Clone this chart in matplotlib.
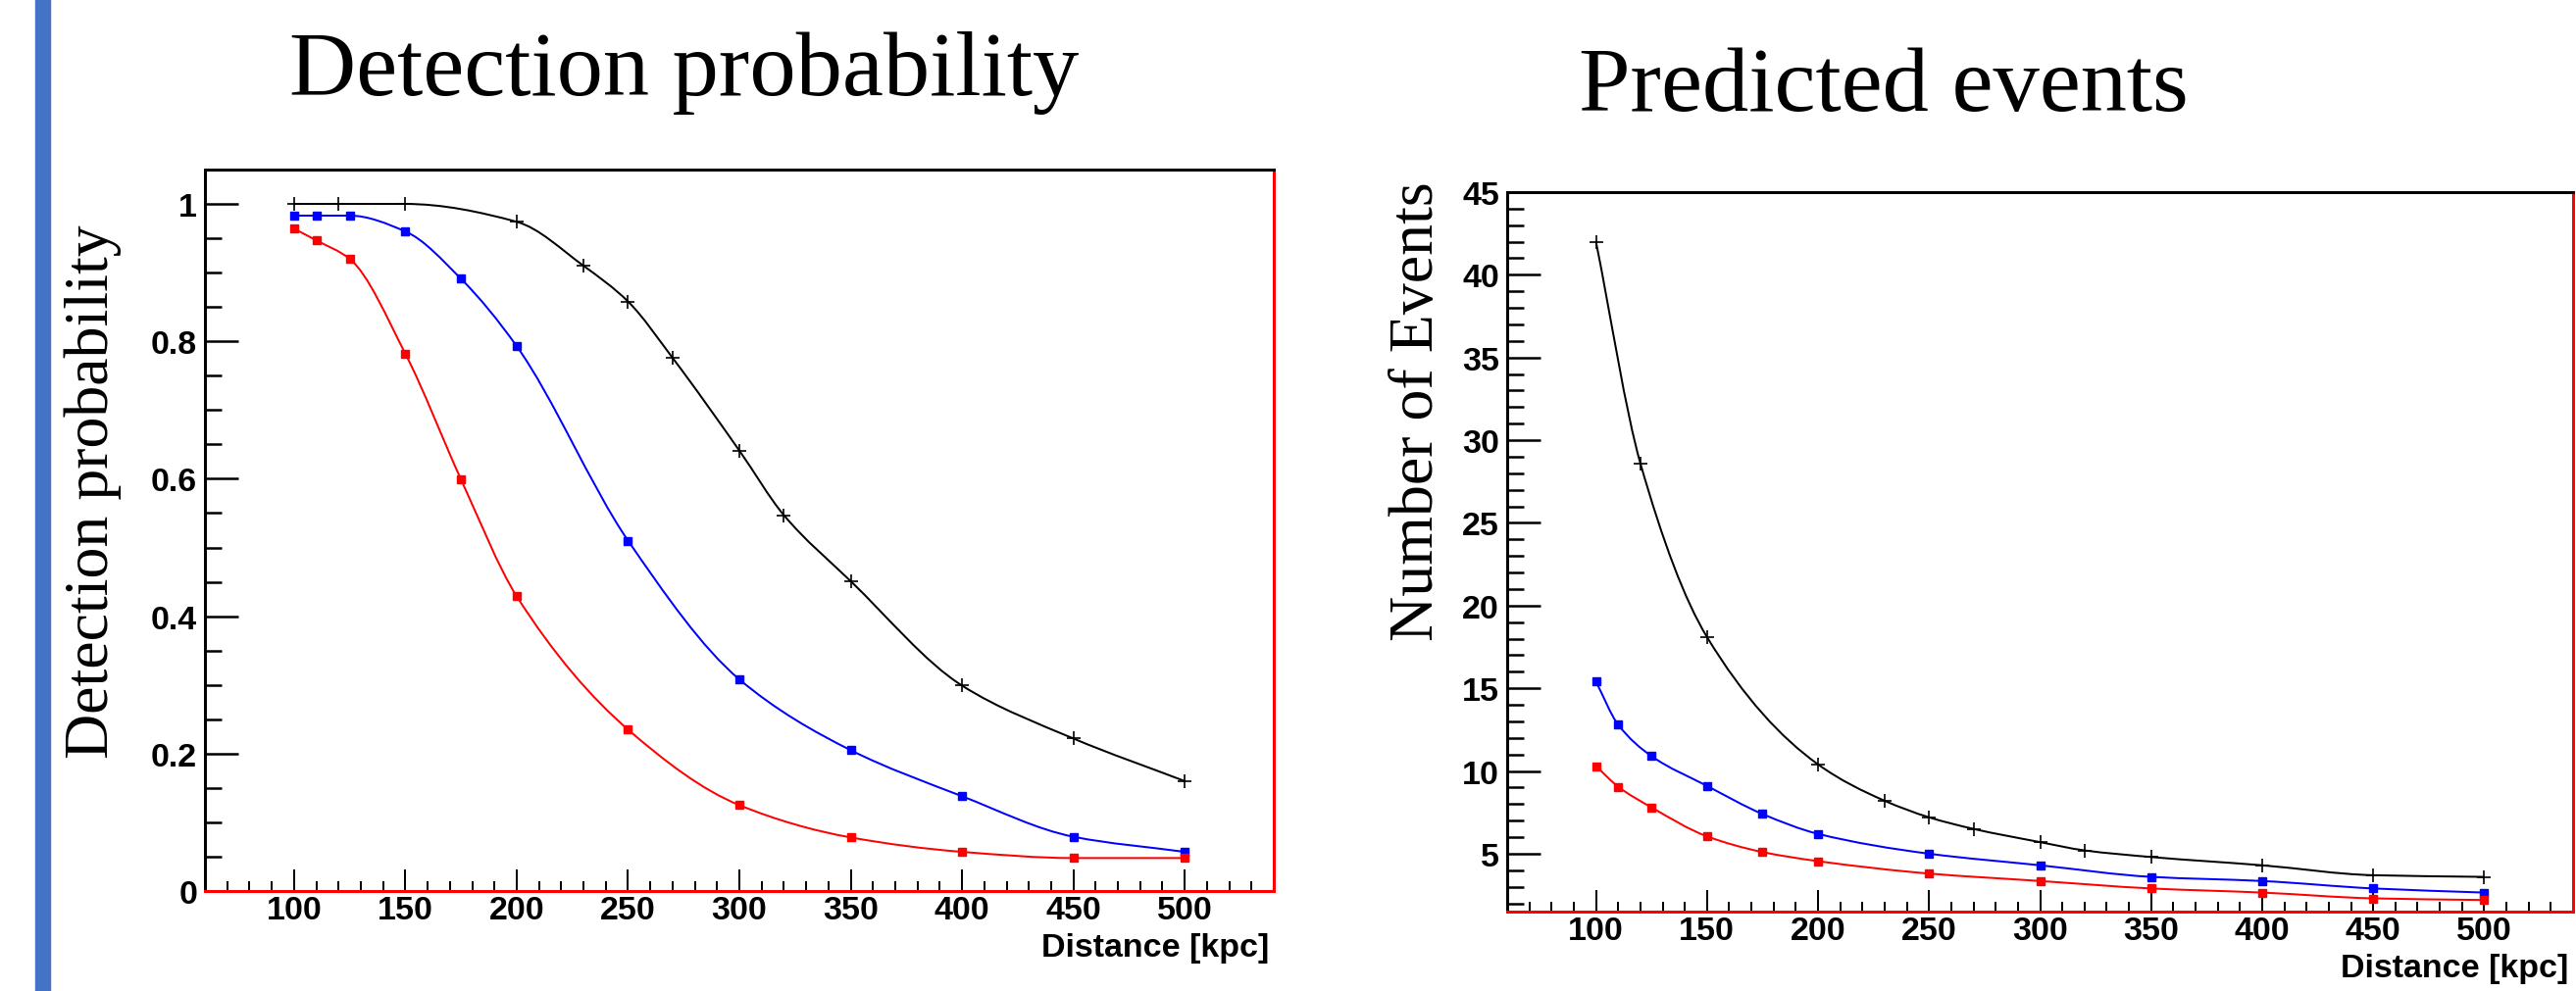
import numpy as np
import matplotlib
matplotlib.use("Agg")
import matplotlib.pyplot as plt
from matplotlib.path import Path
from matplotlib.patches import PathPatch
from matplotlib.ticker import MultipleLocator, FixedLocator

# --- data ---
dist_black = [100, 120, 150, 200, 230, 250, 270, 300, 320, 350, 400, 450, 500]
dist_color = [100, 110, 125, 150, 175, 200, 250, 300, 350, 400, 450, 500]

prob_black = [1.0, 1.0, 1.0, 0.974, 0.910, 0.858, 0.776, 0.641, 0.547, 0.451, 0.299, 0.222, 0.160]
prob_blue = [0.983, 0.983, 0.983, 0.960, 0.891, 0.793, 0.510, 0.308, 0.205, 0.138, 0.079, 0.057]
prob_red = [0.964, 0.947, 0.920, 0.782, 0.599, 0.429, 0.235, 0.125, 0.078, 0.057, 0.048, 0.048]

events_black = [42.0, 28.6, 18.1, 10.4, 8.2, 7.2, 6.5, 5.7, 5.2, 4.8, 4.3, 3.7, 3.6]
events_blue = [15.4, 12.8, 10.9, 9.1, 7.4, 6.2, 5.0, 4.3, 3.6, 3.35, 2.9, 2.65]
events_red = [10.3, 9.05, 7.8, 6.05, 5.1, 4.55, 3.8, 3.35, 2.9, 2.65, 2.3, 2.2]

W, H = 2627, 1012
DPI = 100

SANS = ["Liberation Sans", "DejaVu Sans"]
SERIF = ["Liberation Serif", "DejaVu Serif"]


def px(v):
    # pixels -> points
    return v * 72.0 / DPI


def smooth_path(x, y):
    # monotone cubic (Fritsch-Carlson) drawn as bezier segments, like ROOT's "C" option
    x = np.asarray(x, float)
    y = np.asarray(y, float)
    h = np.diff(x)
    d = np.diff(y) / h
    m = np.zeros_like(y)
    m[0], m[-1] = d[0], d[-1]
    for i in range(1, len(y) - 1):
        if d[i - 1] * d[i] <= 0:
            m[i] = 0.0
        else:
            w1 = 2 * h[i] + h[i - 1]
            w2 = h[i] + 2 * h[i - 1]
            m[i] = (w1 + w2) / (w1 / d[i - 1] + w2 / d[i])
    verts = [(x[0], y[0])]
    codes = [Path.MOVETO]
    for i in range(len(x) - 1):
        verts += [(x[i] + h[i] / 3, y[i] + m[i] * h[i] / 3),
                  (x[i + 1] - h[i] / 3, y[i + 1] - m[i + 1] * h[i] / 3),
                  (x[i + 1], y[i + 1])]
        codes += [Path.CURVE4] * 3
    return Path(verts, codes)


def draw_series(ax, x, y, color, marker, ms, mew):
    ax.add_patch(PathPatch(smooth_path(x, y), fc="none", ec=color, lw=px(2)))
    ax.plot(x, y, ls="none", marker=marker, ms=ms, mew=mew,
            mec=color, mfc=color, clip_on=False)


def style_axes(ax, xlim, ylim, ymajor, yminor, yticklabels):
    ax.set_xlim(*xlim)
    ax.set_ylim(*ylim)
    ax.xaxis.set_major_locator(FixedLocator([100, 150, 200, 250, 300, 350, 400, 450, 500]))
    ax.xaxis.set_minor_locator(MultipleLocator(10))
    ax.yaxis.set_major_locator(FixedLocator(ymajor))
    ax.yaxis.set_minor_locator(MultipleLocator(yminor))
    ax.set_yticklabels(yticklabels)
    ax.tick_params(axis="x", which="major", direction="in", length=px(22), width=px(2),
                   pad=3, top=False, labelsize=24.5)
    ax.tick_params(axis="x", which="minor", direction="in", length=px(10), width=px(2), top=False)
    ax.tick_params(axis="y", which="major", direction="in", length=px(34), width=px(2.5),
                   pad=px(8), right=False, labelsize=24.5)
    ax.tick_params(axis="y", which="minor", direction="in", length=px(17), width=px(2.5), right=False)
    for lab in ax.get_xticklabels() + ax.get_yticklabels():
        lab.set_fontfamily(SANS)
        lab.set_fontweight("bold")
    ax.spines["top"].set_color("black")
    ax.spines["left"].set_color("black")
    ax.spines["bottom"].set_color("red")
    ax.spines["right"].set_color("red")
    for s in ax.spines.values():
        s.set_linewidth(px(3))
    ax.set_xlabel("Distance [kpc]", fontsize=24.5, fontweight="bold", family=SANS)
    ax.xaxis.set_label_coords(0.996, -0.057)
    ax.xaxis.label.set_horizontalalignment("right")
    ax.xaxis.label.set_verticalalignment("top")


fig = plt.figure(figsize=(W / DPI, H / DPI), dpi=DPI)

# left accent bar of the slide
fig.patches.append(plt.Rectangle((36 / W, 0), 15 / W, 1, transform=fig.transFigure,
                                 color="#4472C4", zorder=0))

ax1 = fig.add_axes([209 / W, (H - 910) / H, (1299 - 209) / W, (910 - 174) / H])
draw_series(ax1, dist_black, prob_black, "black", "+", 10, 1.2)
draw_series(ax1, dist_color, prob_blue, "blue", "s", 6, 1)
draw_series(ax1, dist_color, prob_red, "red", "s", 6, 1)
style_axes(ax1, (60, 540), (0, 1.05), [0, 0.2, 0.4, 0.6, 0.8, 1.0], 0.05,
           ["0", "0.2", "0.4", "0.6", "0.8", "1"])

ax2 = fig.add_axes([1537 / W, (H - 931) / H, (2624 - 1537) / W, (931 - 197) / H])
draw_series(ax2, dist_black, events_black, "black", "+", 10, 1.2)
draw_series(ax2, dist_color, events_blue, "blue", "s", 6, 1)
draw_series(ax2, dist_color, events_red, "red", "s", 6, 1)
style_axes(ax2, (60, 540), (1.5, 45), [5, 10, 15, 20, 25, 30, 35, 40, 45], 1,
           ["5", "10", "15", "20", "25", "30", "35", "40", "45"])

# titles and y labels (slide text)
fig.text(698 / W, (H - 97) / H, "Detection probability", fontsize=68, family=SERIF,
         ha="center", va="baseline")
fig.text(1921 / W, (H - 113) / H, "Predicted events", fontsize=68, family=SERIF,
         ha="center", va="baseline")
fig.text(95 / W, (H - 502) / H, "Detection probability", fontsize=46, family=SERIF,
         rotation=90, ha="center", va="center")
fig.text(1446 / W, (H - 420) / H, "Number of Events", fontsize=46, family=SERIF,
         rotation=90, ha="center", va="center")

fig.savefig("out.png", dpi=DPI)
